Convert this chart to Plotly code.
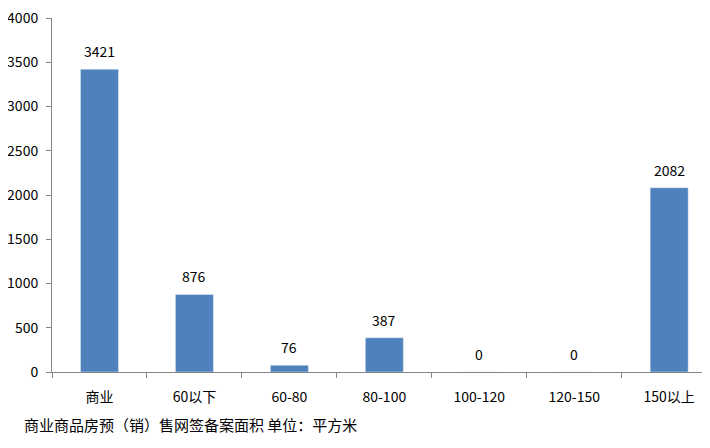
import plotly.graph_objects as go

# Categories and values
categories = ["商业", "60以下", "60-80", "80-100", "100-120", "120-150", "150以上"]
areas = [3421, 876, 76, 387, 0, 0, 2082]

y_ticks = [0, 500, 1000, 1500, 2000, 2500, 3000, 3500, 4000]

FONT = "Noto Sans CJK SC"
BAR_COLOR = "#4F81BD"
AXIS_COLOR = "#868686"

fig = go.Figure(go.Bar(
    x=categories,
    y=areas,
    marker_color=BAR_COLOR,
    hoverinfo="x+y",
))

# value labels sit a little above each bar
labels = [
    dict(x=c, y=v, text=str(v), xref="x", yref="y",
         yanchor="bottom", yshift=6, showarrow=False,
         font=dict(family=FONT, size=14, color="#000000"))
    for c, v in zip(categories, areas)
]

labels.append(dict(
    text="商业商品房预（销）售网签备案面积 单位：平方米",
    xref="paper", yref="paper",
    x=-0.046, y=-0.148,
    xanchor="left", yanchor="middle",
    showarrow=False,
    font=dict(family=FONT, size=15, color="#000000"),
))

# page body adds 8px around the figure, so the figure is a bit smaller
fig.update_layout(
    width=702,
    height=440,
    margin=dict(l=44, r=0, t=10, b=76, autoexpand=False),
    plot_bgcolor="white",
    paper_bgcolor="white",
    bargap=0.6,
    showlegend=False,
    font=dict(family=FONT, size=14, color="#000000"),
    annotations=labels,
)

fig.update_xaxes(
    range=[-0.5, 6.43],
    showline=True,
    linecolor=AXIS_COLOR,
    linewidth=1,
    ticks="outside",
    tickson="boundaries",
    ticklen=5,
    tickcolor=AXIS_COLOR,
    showgrid=False,
    automargin=False,
    tickfont=dict(family=FONT, size=14),
    ticklabelstandoff=12,
)

fig.update_yaxes(
    range=[0, 4000],
    tickvals=y_ticks,
    showline=True,
    linecolor=AXIS_COLOR,
    linewidth=1,
    ticks="outside",
    ticklen=5,
    tickcolor=AXIS_COLOR,
    showgrid=False,
    zeroline=False,
    automargin=False,
    ticklabeloverflow="allow",
    tickfont=dict(family=FONT, size=14),
    ticklabelstandoff=5,
)

fig.write_html("out.html")
